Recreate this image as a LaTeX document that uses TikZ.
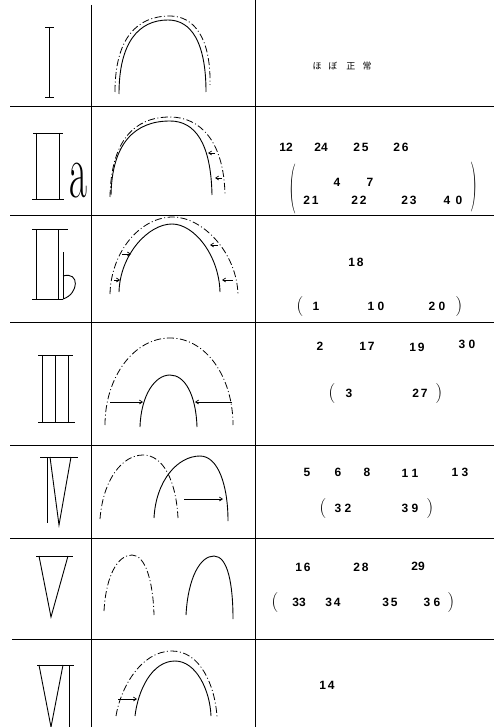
\documentclass[tikz,border=0pt]{standalone}
\usepackage{fontspec}
\newfontfamily\numfont{Liberation Sans}
\newfontfamily\jpfont{Noto Sans CJK JP}
\usepackage{tikz}
\usetikzlibrary{arrows.meta}

\begin{document}
\begin{tikzpicture}[x=1pt,y=-1pt,>={Straight Barb[length=3pt,width=4pt]},
  rule/.style={line width=1pt},
  numeral/.style={line width=0.9pt},
  jaw/.style={line width=0.9pt},
  plan/.style={line width=0.8pt,dash pattern=on 7pt off 2.5pt on 1pt off 2.5pt},
  push/.style={line width=0.7pt,->},
  num/.style={font=\numfont\bfseries\fontsize{12}{12}\selectfont},
  paren/.style={font=\fontsize{20}{20}\selectfont}]
\useasboundingbox (0,0) rectangle (494,727);

% table
\draw[rule] (91,5) -- (91,727);
\draw[rule] (255,0) -- (255,727);
\draw[rule] (10,107) -- (494,107);
\draw[rule] (10,216) -- (494,216);
\draw[rule] (10,322) -- (494,322);
\draw[rule] (10,445) -- (494,445);
\draw[rule] (10,538) -- (494,538);
\draw[rule] (12,639) -- (494,639);

% I
\draw[numeral] (49,27) -- (49,97);
\draw[numeral] (45,27) -- (54,27);
\draw[numeral] (45,97) -- (54,97);
% IIa
\draw[numeral] (33,133) -- (63,133);
\draw[numeral] (32,199) -- (64,199);
\draw[numeral] (36,133) -- (36,199);
\draw[numeral] (59,133) -- (59,199);
\node[xscale=0.5,inner sep=0pt,anchor=base] (lettera) at (78,198) {\fontsize{78}{78}\selectfont a};
% IIb
\draw[numeral] (32,229) -- (68,229);
\draw[numeral] (32,299) -- (63,299);
\draw[numeral] (36,229) -- (36,299);
\draw[numeral] (58,229) -- (58,299);
\draw[numeral] (63,252) -- (63,299);
\draw[numeral] (63,276) .. controls (80,271) and (79,294) .. (63,299);
% III
\draw[numeral] (38,355) -- (73,355);
\draw[numeral] (38,422) -- (75,422);
\draw[numeral] (42,355) -- (42,422);
\draw[numeral] (55,355) -- (55,422);
\draw[numeral] (68,355) -- (68,422);
% IV
\draw[numeral] (40,457) -- (78,457);
\draw[numeral] (47,457) -- (47,523);
\draw[numeral] (50,457) -- (59,525) -- (71,457);
% V
\draw[numeral] (36,556) -- (73,556);
\draw[numeral] (39,556) -- (51,617) -- (68,556);
% VI
\draw[numeral] (37,665) -- (74,665);
\draw[numeral] (39,665) -- (51,727) -- (63,665);
\draw[numeral] (69,665) -- (69,727);

% arches
\draw[plan] (115,92) .. controls (115,38) and (137,16) .. (170,16) .. controls (194,16) and (211,38) .. (210,85);
\draw[jaw] (119,94) .. controls (119,42) and (139,20) .. (168,20) .. controls (191,20) and (206,42) .. (206,92);

\draw[plan] (110,197) .. controls (111,141) and (134,117) .. (170,117) .. controls (200,117) and (224,141) .. (225,195);
\draw[jaw] (111,195) .. controls (112,143) and (135,121) .. (170,121) .. controls (195,121) and (211,143) .. (212,195);
\draw[push] (215,153) -- (208,153);
\draw[push] (222,178) -- (215,178);

\draw[plan] (110,294) .. controls (111,252) and (140,217) .. (173,217) .. controls (202,217) and (237,252) .. (238,295);
\draw[jaw] (119,292) .. controls (120,255) and (148,224) .. (172,224) .. controls (194,224) and (219,255) .. (220,292);
\draw[push] (122,254) -- (131,254);
\draw[push] (114,280) -- (120,280);
\draw[push] (218,245) -- (210,245);
\draw[push] (233,280) -- (222,280);

\draw[plan] (105,425) .. controls (105,377) and (134,338) .. (170,338) .. controls (206,338) and (233,377) .. (233,425);
\draw[jaw] (140,427) .. controls (141,395) and (155,375) .. (170,375) .. controls (185,375) and (196,395) .. (197,427);
\draw[push] (110,402) -- (143,402);
\draw[push] (232,402) -- (195,402);

\draw[plan] (100,519) .. controls (103,480) and (122,455) .. (143,455) .. controls (163,455) and (176,480) .. (178,518);
\draw[jaw] (154,518) .. controls (156,480) and (178,456) .. (200,456) .. controls (218,456) and (228,485) .. (228,521);
\draw[push] (184,499) -- (223,499);

\draw[plan] (104,611) .. controls (106,575) and (118,555) .. (132,555) .. controls (145,555) and (153,580) .. (154,615);
\draw[jaw] (186,615) .. controls (188,578) and (200,556) .. (214,556) .. controls (228,556) and (233,585) .. (233,619);

\draw[plan] (116,716) .. controls (120,690) and (140,651) .. (172,651) .. controls (200,651) and (215,685) .. (217,717);
\draw[jaw] (135,716) .. controls (138,690) and (152,661) .. (175,661) .. controls (196,661) and (210,690) .. (211,716);
\draw[push] (118,699) -- (137,699);

% cases
\node (normal) at (342,66) {\jpfont\fontsize{9}{9}\selectfont ほ\hspace{7pt}ぼ\hspace{9pt}正\hspace{7pt}常};

\node[num] (n12) at (286,147) {12};
\node[num] (n24) at (321,147) {24};
\node[num] (n25) at (361,147) {2\,5};
\node[num] (n26) at (401,147) {2\,6};
\node[paren,yscale=2.5] (lpa) at (293,189) {(};
\node[num] (n4) at (337,182) {4};
\node[num] (n7) at (370,182) {7};
\node[num] (n21) at (311,200) {2\,1};
\node[num] (n22) at (359,200) {2\,2};
\node[num] (n23) at (409,200) {2\,3};
\node[num] (n40) at (453,200) {4\;\,0};
\node[paren,yscale=2.5] (rpa) at (474,187) {)};

\node[num] (n18) at (356,262) {1\,8};
\node[paren] (lpb) at (300,307) {(};
\node[num] (n1) at (316,306) {1};
\node[num] (n10) at (376,306) {1\;0};
\node[num] (n20) at (437,306) {2\;0};
\node[paren] (rpb) at (459,307) {)};

\node[num] (n2) at (320,346) {2};
\node[num] (n17) at (367,346) {1\,7};
\node[num] (n19) at (417,347) {1\,9};
\node[num] (n30) at (467,344) {3\;0};
\node[paren] (lpc) at (332,394) {(};
\node[num] (n3) at (349,393) {3};
\node[num] (n27) at (420,393) {2\,7};
\node[paren] (rpc) at (439,394) {)};

\node[num] (n5) at (307,472) {5};
\node[num] (n6) at (338,472) {6};
\node[num] (n8) at (367,472) {8};
\node[num] (n11) at (410,473) {1\;1};
\node[num] (n13) at (460,472) {1\;3};
\node[paren] (lpd) at (323,509) {(};
\node[num] (n32) at (343,508) {3\;2};
\node[num] (n39) at (410,508) {3\;9};
\node[paren] (rpd) at (430,509) {)};

\node[num] (n16) at (303,567) {1\,6};
\node[num] (n28) at (361,567) {2\,8};
\node[num] (n29) at (418,566) {29};
\node[paren] (lpe) at (275,603) {(};
\node[num] (n33) at (299,602) {33};
\node[num] (n34) at (333,602) {3\,4};
\node[num] (n35) at (390,602) {3\,5};
\node[num] (n36) at (432,602) {3\;6};
\node[paren] (rpe) at (451,603) {)};

\node[num] (n14) at (327,685) {1\,4};
\end{tikzpicture}
\end{document}
